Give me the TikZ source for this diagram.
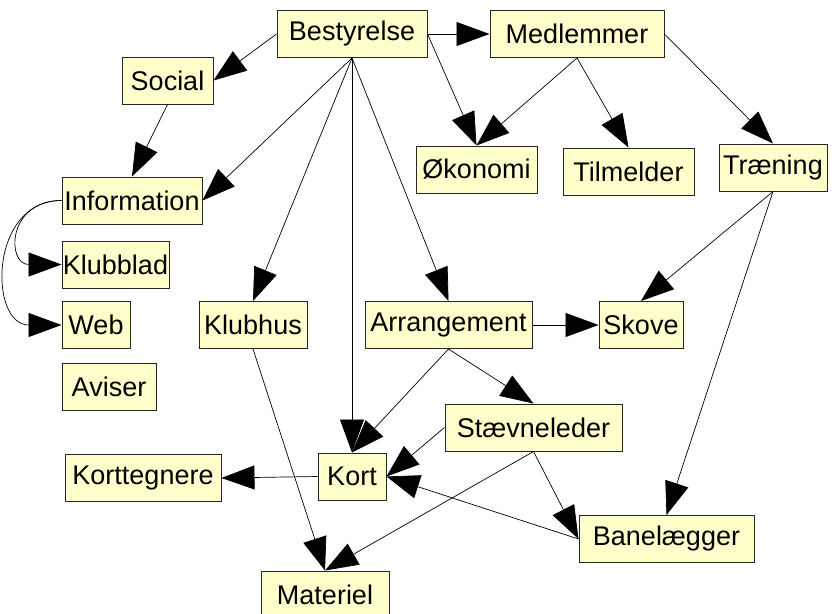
\documentclass[tikz,border=0pt]{standalone}
\usepackage{fontspec}
\setmainfont{Liberation Sans}
\usetikzlibrary{arrows.meta}

\definecolor{boxfill}{RGB}{255,255,204}

\begin{document}
\begin{tikzpicture}[
x=1pt, y=-1pt,
box/.style={draw=black!85, line width=1pt, fill=boxfill, inner sep=0pt, minimum height=47pt, font=\fontsize{27}{31}\selectfont},
link/.style={-{Triangle[length=33pt, width=24pt]}, line width=.7pt},
]

\useasboundingbox (0,0) rectangle (832,613);

%%%% TOP ROW
\node[box, minimum width=150pt] (Best) at (352,34) {Bestyrelse};
\node[box, minimum width=174pt] (Medl) at (577,34) {Medlemmer};
\node[box, minimum width=91pt] (Social) at (167.5,80.5) {Social};

\node[box, minimum width=121pt] (Okon) at (476.5,169.5) {Økonomi};
\node[box, minimum width=131pt] (Tilm) at (628.5,171.5) {Tilmelder};
\node[box, minimum width=108pt] (Traen) at (773,167.5) {Træning};

%%%% INFORMATION
\node[box, minimum width=140pt] (Info) at (132,200.5) {Information};
\node[box, minimum width=107pt] (Klubblad) at (115.5,264.5) {Klubblad};
\node[box, minimum width=68pt] (Web) at (96,325) {Web};
\node[box, minimum width=94pt] (Aviser) at (109,386.5) {Aviser};

%%%% MIDDLE ROW
\node[box, minimum width=108pt] (Klubhus) at (253,325) {Klubhus};
\node[box, minimum width=167pt] (Arr) at (448.5,325) {Arrangement};
\node[box, minimum width=84pt] (Skove) at (641,325) {Skove};

%%%% BOTTOM
\node[box, minimum width=177pt] (Staev) at (533.5,427.5) {Stævneleder};
\node[box, minimum width=68pt] (Kort) at (352,476.5) {Kort};
\node[box, minimum width=156pt] (Korttegn) at (143,478) {Korttegnere};
\node[box, minimum width=175pt] (Bane) at (666.5,539) {Banelægger};
\node[box, minimum width=128pt] (Mat) at (325,594.5) {Materiel};

%% Bestyrelse
\draw[link] (Best.west)--(Social.east);
\draw[link] (Best.south)--(Info.east);
\draw[link] (Best.south)--(Klubhus.north);
\draw[link] (Best.south)--(Kort.north);
\draw[link] (Best.south)--(Arr.north);
\draw[link] (Best.east)--(Medl.west);
\draw[link] (Best.east)--(Okon.north);

%% Medlemmer
\draw[link] (Medl.south)--(Okon.north);
\draw[link] (Medl.south)--(Tilm.north);
\draw[link] (Medl.east)--(Traen.north);

%% Information
\draw[link] (Social.south)--(Info.north);
\draw[link] (Info.west) to[out=180, in=180, looseness=2.2] (Klubblad.west);
\draw[link] (Info.west) to[out=180, in=180, looseness=1.5] (Web.west);

%% Traening
\draw[link] (Traen.south)--(Skove.north);
\draw[link] (Traen.south)--(Bane.north);

%% Arrangement
\draw[link] (Arr.east)--(Skove.west);
\draw[link] (Arr.south)--(Kort.north);
\draw[link] (Arr.south)--(Staev.north);

%% Staevneleder
\draw[link] (Staev.west)--(Kort.east);
\draw[link] (Staev.south)--(Bane.west);
\draw[link] (Staev.south)--(Mat.north);

%% Kort, Materiel
\draw[link] (Bane.west)--(Kort.east);
\draw[link] (Kort.west)--(Korttegn.east);
\draw[link] (Klubhus.south)--(Mat.north);

\end{tikzpicture}
\end{document}
